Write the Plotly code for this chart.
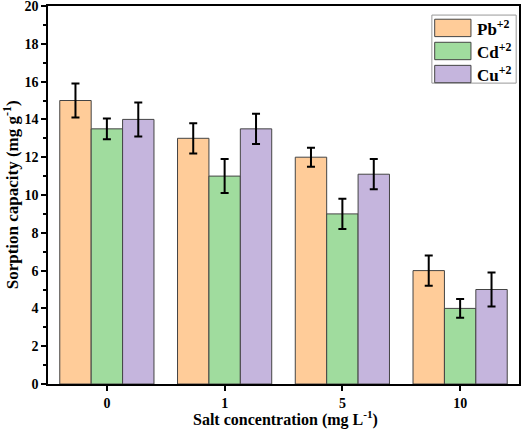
import plotly.graph_objects as go

categories = ["0", "1", "5", "10"]
pb = [15, 13, 12, 6]
cd = [13.5, 11, 9, 4]
cu = [14, 13.5, 11.1, 5]
pb_err = [0.9, 0.8, 0.5, 0.8]
cd_err = [0.55, 0.9, 0.8, 0.5]
cu_err = [0.9, 0.8, 0.8, 0.9]
series_names = ["Pb<sup>+2</sup>", "Cd<sup>+2</sup>", "Cu<sup>+2</sup>"]
colors = ["#FFCC99", "#A0DC9E", "#C5B5DD"]

FONT = "Liberation Serif"

fig = go.Figure()
for name, vals, errs, col in zip(series_names, [pb, cd, cu], [pb_err, cd_err, cu_err], colors):
    fig.add_trace(go.Bar(
        x=categories, y=vals, name=name,
        marker=dict(color=col, line=dict(color="#444444", width=1)),
        error_y=dict(type="data", array=errs, color="black", thickness=2, width=4),
        showlegend=False,
    ))

# manual legend (box + swatches + labels)
fig.add_shape(type="rect", xref="paper", yref="paper", x0=0.815, x1=0.994, y0=0.796, y1=0.976,
              line=dict(color="#999999", width=1), fillcolor="white")
for i, (name, col) in enumerate(zip(series_names, colors)):
    yc = 0.942 - i * 0.061
    fig.add_shape(type="rect", xref="paper", yref="paper",
                  x0=0.821, x1=0.898, y0=yc - 0.023, y1=yc + 0.023,
                  line=dict(color="#444444", width=1), fillcolor=col)
    fig.add_annotation(xref="paper", yref="paper", x=0.906, y=yc, text="<b>" + name + "</b>",
                       showarrow=False, xanchor="left", yanchor="middle",
                       font=dict(family=FONT, size=17, color="black"))

# axis titles
fig.add_annotation(xref="paper", yref="paper", x=0.505, y=-0.092, yanchor="middle", xanchor="center",
                   text="<b>Salt concentration (mg L<sup>-1</sup>)</b>", showarrow=False,
                   font=dict(family=FONT, size=16, color="black"))
fig.add_annotation(xref="paper", yref="paper", x=-0.078, y=0.5, yanchor="middle", xanchor="center",
                   text="<b>Sorption capacity (mg g<sup>-1</sup>)</b>", showarrow=False, textangle=-90,
                   font=dict(family=FONT, size=17, color="black"))

fig.update_layout(
    width=524, height=429,
    margin=dict(l=48, r=5, t=6, b=45),
    paper_bgcolor="white", plot_bgcolor="white",
    barmode="group", bargap=0.2, bargroupgap=0,
    font=dict(family=FONT, color="black"),
    xaxis=dict(
        type="category", range=[-0.5, 3.5], automargin=False,
        showline=True, linecolor="black", linewidth=1.5, mirror=True,
        ticks="outside", ticklen=5, tickwidth=1.5, tickcolor="black",
        minor=dict(ticks="outside", ticklen=3, tickwidth=1.5, tickcolor="black"),
        tickfont=dict(family=FONT, size=14, color="black", weight="bold"),
        showgrid=False,
    ),
    yaxis=dict(
        range=[0, 20], dtick=2, automargin=False, ticklabeloverflow="allow",
        showline=True, linecolor="black", linewidth=1.5, mirror=True,
        ticks="outside", ticklen=5, tickwidth=1.5, tickcolor="black",
        minor=dict(ticks="outside", ticklen=3, tickwidth=1.5, tickcolor="black", dtick=1),
        tickfont=dict(family=FONT, size=14, color="black", weight="bold"),
        showgrid=False, zeroline=False,
    ),
)

fig.write_html("out.html", config={"displayModeBar": False},
               post_script="document.body.style.margin='0';document.body.style.overflow='hidden';")
